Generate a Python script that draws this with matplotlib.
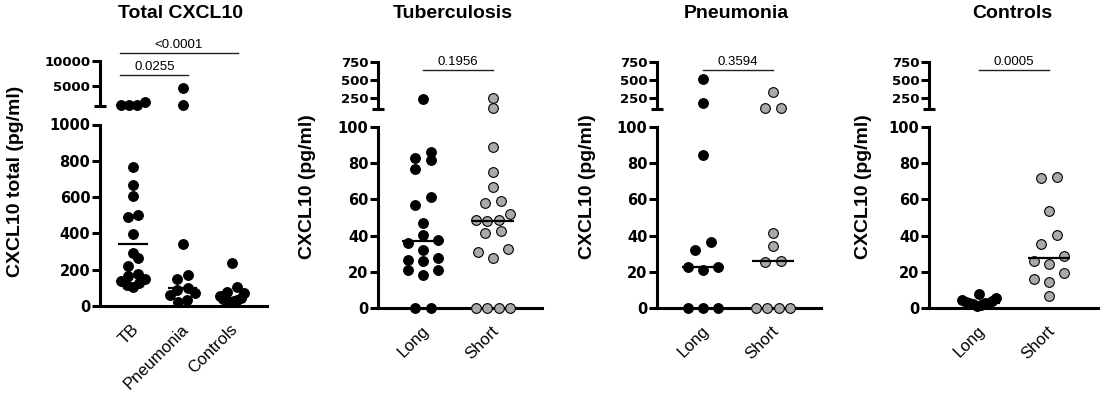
import numpy as np
import matplotlib
matplotlib.use("Agg")
import matplotlib.pyplot as plt
from matplotlib.transforms import blended_transform_factory, ScaledTranslation

plt.rcParams['font.family'] = ['Liberation Sans', 'DejaVu Sans']

W, H = 1102, 398

# ---- data (pg/ml) ----
total_groups = ["TB", "Pneumonia", "Controls"]
total_tb = [1900, 1300, 1250, 1200, 767, 668, 608, 504, 493, 398, 290, 263, 221,
            175, 165, 150, 140, 125, 115, 105]
total_pneumonia = [4600, 1200, 343, 170, 148, 100, 88, 71, 60, 33, 20]
total_controls = [235, 104, 77, 71, 55, 45, 40, 35, 30, 25, 20]
total_pvals = ["0.0255", "<0.0001"]

sub_groups = ["Long", "Short"]
tb_long = [245, 86, 83, 82, 77, 61.5, 57, 47, 40.5, 37.5, 36, 32, 27.5, 26.5, 26,
           21, 21, 18.5, 0, 0]
tb_short = [255, 115, 89, 75, 67, 59, 58, 52, 48.5, 48.5, 48, 42.5, 41.5, 32.5, 31,
            27.5, 0, 0, 0, 0]
pn_long = [510, 178, 84.5, 36.5, 32, 22.5, 22.5, 21, 0, 0, 0]
pn_short = [335, 112, 112, 41.5, 34.5, 25.7, 25.2, 0, 0, 0, 0]
ctrl_long = [7.8, 5.5, 4.5, 4.0, 3.5, 3.0, 3.0, 2.5, 2.0, 1.5, 1.0]
ctrl_short = [72.5, 72, 53.5, 40.5, 35.5, 29, 26, 24.5, 19.5, 16, 14.5, 6.5]
sub_pvals = ["0.1956", "0.3594", "0.0005"]

BLACK = "black"
GREY = "#a9a9a9"
LW = 2.2
DOT = 7.0       # marker size, pt
ROW_PX = 10.0   # dots closer than this (vertically) share a row
TICK_FONT = "DejaVu Sans"

fig = plt.figure(figsize=(W / 100, H / 100), dpi=100)


def box(x0, x1, ytop, ybot):
    return [x0 / W, 1 - ybot / H, (x1 - x0) / W, (ybot - ytop) / H]


def scatter_rows(ax, values, space_px, maxw_px):
    # prism-like scatter: group dots into rows, spread each row around the centre
    vals = np.asarray(values, float)
    ypx = ax.transData.transform(np.column_stack([np.zeros_like(vals), vals]))[:, 1]
    xs = np.zeros(len(vals))
    rows = []
    for i in np.argsort(ypx, kind="stable"):
        if rows and ypx[i] - ypx[rows[-1][0]] < ROW_PX:
            rows[-1].append(i)
        else:
            rows.append([i])
    for row in rows:
        n = len(row)
        s = space_px if n < 2 else min(space_px, maxw_px / (n - 1))
        pos = sorted((np.arange(n) - (n - 1) / 2) * s, key=lambda v: (abs(v), v))
        for idx, x in zip(row, pos):
            xs[idx] = x
    return xs


def style(ax, ticks, cap, size):
    ax.patch.set_visible(False)
    for s in ["top", "right"]:
        ax.spines[s].set_visible(False)
    ax.spines["left"].set_linewidth(LW)
    ax.spines["bottom"].set_linewidth(LW)
    ax.set_yticks(ticks)
    ax.set_yticklabels([str(t) for t in ticks], fontweight="bold", fontsize=size,
                       family=TICK_FONT)
    ax.tick_params(axis="y", length=6, width=LW, pad=1)
    if cap is not None:
        ax.set_yticks([cap], minor=True)
        ax.tick_params(axis="y", which="minor", direction="inout", length=9, width=LW)


def panel(p, groups, series, colors, brk, up_lim, up_ticks, lo_lim, lo_ticks,
          title, ylabel, bars):
    xl = ((p["x0"] - p["cat0"]) / p["step"], (p["x1"] - p["cat0"]) / p["step"])
    up = fig.add_axes(box(p["x0"], p["x1"], p["up_top"], p["up_bot"]))
    lo = fig.add_axes(box(p["x0"], p["x1"], p["lo_top"], p["lo_bot"]))
    for ax, lim in [(up, up_lim), (lo, lo_lim)]:
        ax.set_xlim(*xl)
        ax.set_ylim(*lim)
    style(up, up_ticks, up_lim[0], 9.5)
    up.spines["bottom"].set_visible(False)
    up.set_xticks([])
    style(lo, lo_ticks, None, 10.5)

    space, maxw = 0.215 * p["step"], 0.49 * p["step"]
    for i, (vals, col) in enumerate(zip(series, colors)):
        vals = np.asarray(vals, float)
        for ax, part in [(up, vals[vals > brk]), (lo, vals[vals <= brk])]:
            if len(part) == 0:
                continue
            dx = scatter_rows(ax, part, space, maxw) / p["step"]
            ax.plot(i + dx, part, "o", ms=DOT, mfc=col, mec="black", mew=0.8,
                    clip_on=False, zorder=3)
        med = np.median(vals)
        lo.plot([i - 0.3, i + 0.3], [med, med], color="black", lw=1.6,
                solid_capstyle="butt", zorder=4)

    lo.set_xticks(range(len(groups)))
    lo.set_xticklabels(groups, rotation=45, ha="right", va="top",
                       rotation_mode="anchor", fontsize=12)
    lo.tick_params(axis="x", length=0, pad=11)
    for lab in lo.get_xticklabels():
        lab.set_transform(lab.get_transform() + ScaledTranslation(-2 / 100, 0, fig.dpi_scale_trans))

    tr = blended_transform_factory(up.transData, fig.transFigure)
    for i, j, txt, ypx in bars:
        a, b = i - p["bar_l"], j + p["bar_r"]
        up.plot([a, b], [1 - ypx / H] * 2, color="#222222", lw=1,
                transform=tr, clip_on=False)
        up.text((a + b) / 2, 1 - (ypx - 5) / H, txt, transform=tr, ha="center",
                va="baseline", fontsize=9.5)

    fig.text(p["title_x"] / W, 1 - 13 / H, title, ha="center", va="center",
             fontsize=14, fontweight="bold")
    fig.text(p["ylab_x"] / W, 1 - p["ylab_y"] / H, ylabel, rotation=90, ha="center",
             va="center", fontsize=14, fontweight="bold")


panel(dict(x0=100, x1=267, cat0=133, step=49.5, up_top=61, up_bot=106,
           lo_top=124.5, lo_bot=306, title_x=181, ylab_x=16, ylab_y=181,
           bar_l=0.26, bar_r=0.12),
      total_groups, [total_tb, total_pneumonia, total_controls], [BLACK] * 3, 1000,
      (1000, 10000), [5000, 10000], (0, 1000), [0, 200, 400, 600, 800, 1000],
      "Total CXCL10", "CXCL10 total (pg/ml)",
      [(0, 1, total_pvals[0], 75), (0, 2, total_pvals[1], 53)])

sub_titles = ["Tuberculosis", "Pneumonia", "Controls"]
sub_data = [(tb_long, tb_short), (pn_long, pn_short), (ctrl_long, ctrl_short)]
sub_x = [(378, 542, 423, 453, 307), (657, 821, 703, 736, 587), (929, 1098, 979, 1012, 863)]
for k in range(3):
    x0, x1, c0, tx, yx = sub_x[k]
    panel(dict(x0=x0, x1=x1, cat0=c0, step=70, up_top=62, up_bot=109,
               lo_top=127, lo_bot=308, title_x=tx, ylab_x=yx, ylab_y=187,
               bar_l=0.0, bar_r=0.0),
          sub_groups, list(sub_data[k]), [BLACK, GREY], 100,
          (100, 750), [250, 500, 750], (0, 100), [0, 20, 40, 60, 80, 100],
          sub_titles[k], "CXCL10 (pg/ml)",
          [(0, 1, sub_pvals[k], 70)])

fig.savefig("out.png", dpi=100)
